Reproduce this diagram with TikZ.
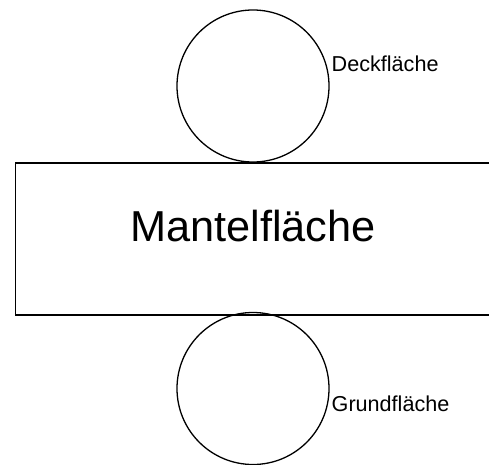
\documentclass[tikz,border=0pt]{standalone}
\usepackage{fontspec}
\setmainfont{Liberation Sans}
\begin{document}
\begin{tikzpicture}[x=1pt,y=-1pt,
  shape line/.style={draw=black,line width=1.3pt},
  facelabel/.style={inner sep=0pt,anchor=base west,font=\fontsize{21.6}{24}\selectfont}]
\useasboundingbox (0,0) rectangle (489,464);
\fill[white] (0,0) rectangle (489,464);
\node[shape line,circle,minimum size=152pt,inner sep=0pt] (top) at (253,86) {};
\node[shape line,rectangle,minimum width=480pt,minimum height=152pt,inner sep=0pt,anchor=north west] (mantel) at (14.5,162.3) {};
\node[shape line,circle,minimum size=152pt,inner sep=0pt] (bottom) at (253,388.5) {};
\node[inner sep=0pt,anchor=base] (mtext) at (253,241.7) {\fontsize{43.3}{48}\selectfont Mantelfläche};
\node[facelabel] (deck) at (331.5,71) {Deckfläche};
\node[facelabel] (grund) at (331.5,411.7) {Grundfläche};
\end{tikzpicture}
\end{document}
